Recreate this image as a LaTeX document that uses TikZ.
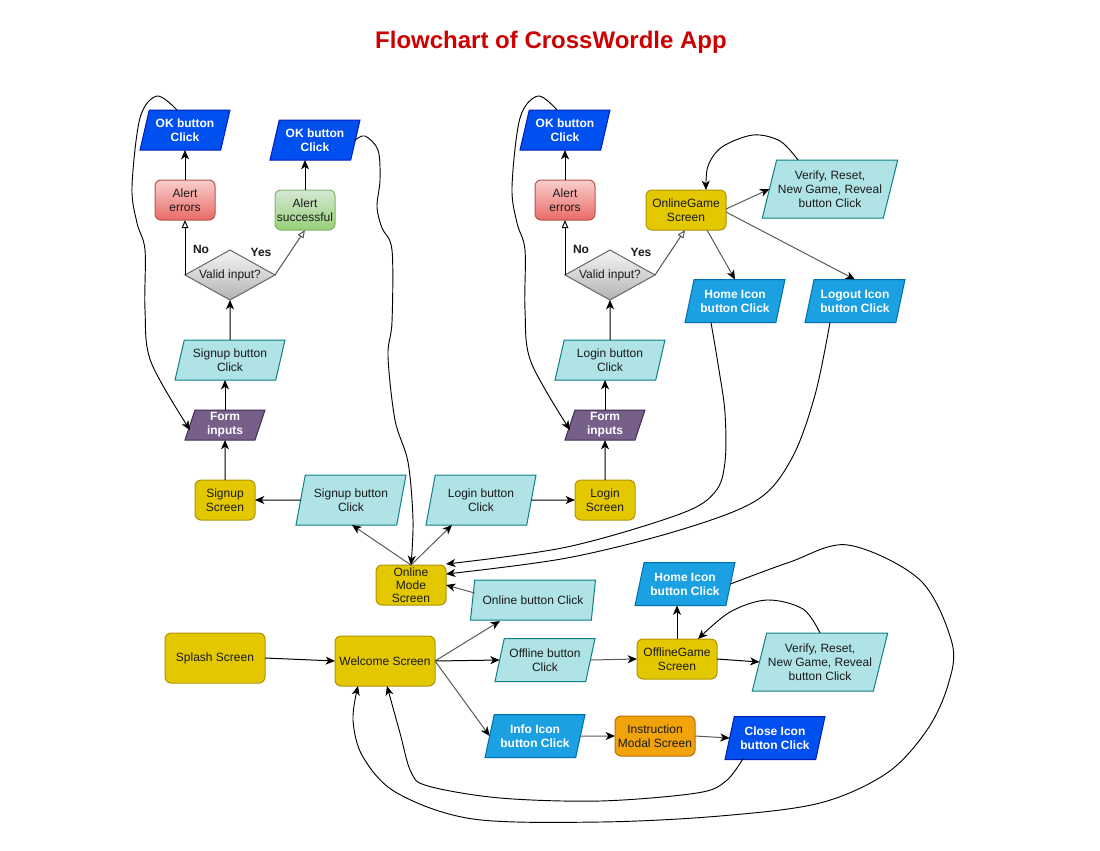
\documentclass[tikz,border=0pt]{standalone}
\usepackage{fontspec}
\setmainfont{Liberation Sans}
\usetikzlibrary{shapes.geometric,arrows.meta,calc}
\definecolor{txt}{HTML}{1A1A1A}
\definecolor{titlered}{HTML}{CC0000}
\definecolor{ylw}{HTML}{E3C800}
\definecolor{ylwD}{HTML}{B09500}
\definecolor{tealF}{HTML}{B0E3E6}
\definecolor{tealD}{HTML}{0E8088}
\definecolor{blueF}{HTML}{0050EF}
\definecolor{blueD}{HTML}{001DBC}
\definecolor{lblueF}{HTML}{1BA1E2}
\definecolor{lblueD}{HTML}{006EAF}
\definecolor{purF}{HTML}{76608A}
\definecolor{purD}{HTML}{432D57}
\definecolor{redT}{HTML}{F8CECC}
\definecolor{redB}{HTML}{EA6B66}
\definecolor{redD}{HTML}{B85450}
\definecolor{grnT}{HTML}{D5E8D4}
\definecolor{grnB}{HTML}{97D077}
\definecolor{grnD}{HTML}{82B366}
\definecolor{orgF}{HTML}{F0A30A}
\definecolor{orgD}{HTML}{BD7000}
\definecolor{diaT}{HTML}{F5F5F5}
\definecolor{diaB}{HTML}{B3B3B3}
\definecolor{diaD}{HTML}{666666}
\definecolor{edgeG}{HTML}{5A5A5A}
\begin{document}
\begin{tikzpicture}[x=0.75pt,y=-0.75pt,
 base/.style={font=\fontsize{9}{10.5}\selectfont, align=center, inner sep=1pt, outer sep=0pt, line width=0.75pt, text=txt},
 sz/.style 2 args={minimum width=#1*0.75pt, minimum height=#2*0.75pt},
 scr/.style={base, rectangle, rounded corners=4.5pt, draw=ylwD, fill=ylw},
 para/.style={base, trapezium, trapezium left angle=70, trapezium right angle=110, trapezium stretches body},
 tealp/.style={para, draw=tealD, fill=tealF},
 boldw/.style={text=white, font=\fontsize{9}{10.5}\selectfont\bfseries},
 bluep/.style={para, boldw, draw=blueD, fill=blueF},
 lbluep/.style={para, boldw, draw=lblueD, fill=lblueF},
 purp/.style={para, boldw, draw=purD, fill=purF},
 redb/.style={base, rectangle, rounded corners=4.5pt, draw=redD, top color=redT, bottom color=redB},
 grnb/.style={base, rectangle, rounded corners=4.5pt, draw=grnD, top color=grnT, bottom color=grnB},
 orgb/.style={scr, draw=orgD, fill=orgF},
 dia/.style={base, diamond, aspect=1.8, inner sep=0pt, draw=diaD, top color=diaT, bottom color=diaB},
 lbl/.style={font=\fontsize{9}{10.5}\selectfont\bfseries, text=txt, inner sep=0pt},
 arr/.style={draw=black, line width=0.75pt, -{Stealth[length=7pt,width=6pt,inset=2pt]}},
 garr/.style={draw=edgeG, line width=0.75pt, -{Stealth[length=7pt,width=6pt,inset=2pt,color=black]}},
 oarr/.style={line width=0.75pt, -{Triangle[open,length=6pt,width=5pt]}},
 goarr/.style={oarr, draw=edgeG},
 crv/.style={arr, line width=0.7pt}
]
\useasboundingbox[fill=white] (0,0) rectangle (1100,850);

\node[font=\fontsize{18}{21}\selectfont\bfseries, text=titlered] (title) at (551,42) {Flowchart of CrossWordle App};

% ---- signup branch
\node[bluep, sz={90}{40}] (ok1) at (185,130) {OK button\\Click};
\node[redb, sz={60}{40}] (ae1) at (185,200) {Alert\\errors};
\node[grnb, sz={60}{40}] (as1) at (305,210) {Alert\\successful};
\node[bluep, sz={90}{40}] (ok2) at (315,140) {OK button\\Click};
\node[dia, sz={90}{50}] (vi1) at (230,275) {Valid input?};
\node[lbl] (no1) at (201,249) {No};
\node[lbl] (yes1) at (261,252) {Yes};
\node[tealp, sz={110}{40}] (sb1) at (230,360) {Signup button\\Click};
\node[purp, sz={80}{30}] (fi1) at (225,425) {Form\\inputs};
\node[scr, sz={60}{40}] (ss) at (225,500) {Signup\\Screen};
\node[tealp, sz={110}{50}] (sb2) at (351,500) {Signup button\\Click};

% ---- login branch
\node[tealp, sz={110}{50}] (lb2) at (481,500) {Login button\\Click};
\node[scr, sz={60}{40}] (ls) at (605,500) {Login\\Screen};
\node[purp, sz={80}{30}] (fi2) at (605,425) {Form\\inputs};
\node[tealp, sz={110}{40}] (lb1) at (610,360) {Login button\\Click};
\node[dia, sz={90}{50}] (vi2) at (610,275) {Valid input?};
\node[lbl] (no2) at (581,249) {No};
\node[lbl] (yes2) at (641,252) {Yes};
\node[redb, sz={60}{40}] (ae2) at (565,200) {Alert\\errors};
\node[bluep, sz={90}{40}] (ok3) at (565,130) {OK button\\Click};
\node[scr, sz={80}{40}] (og) at (686,210) {OnlineGame\\Screen};
\node[tealp, sz={130}{58}] (vr1) at (830,189) {Verify, Reset,\\New Game, Reveal\\button Click};
\node[lbluep, sz={100}{43}] (hi1) at (735,301) {Home Icon\\button Click};
\node[lbluep, sz={100}{43}] (lo) at (855,301) {Logout Icon\\button Click};

% ---- main row
\node[scr, sz={70}{40}, inner sep=0pt, font=\fontsize{9}{9.8}\selectfont] (om) at (411,585) {Online\\Mode\\Screen};
\node[tealp, sz={125}{40}] (ob) at (533,600) {Online button Click};
\node[scr, sz={100}{50}] (sp) at (215,658) {Splash Screen};
\node[scr, sz={100}{50}] (wl) at (385,661) {Welcome Screen};
\node[tealp, sz={100}{43}] (fb) at (545,660) {Offline button\\Click};
\node[scr, sz={80}{40}] (ofg) at (677,659) {OfflineGame\\Screen};
\node[lbluep, sz={100}{43}] (hi2) at (685,584) {Home Icon\\button Click};
\node[tealp, sz={130}{58}] (vr2) at (820,662) {Verify, Reset,\\New Game, Reveal\\button Click};
\node[lbluep, sz={100}{43}] (inf) at (535,736) {Info Icon\\button Click};
\node[orgb, sz={80}{40}] (ins) at (655,736) {Instruction\\Modal Screen};
\node[bluep, sz={100}{43}] (cl) at (775,738) {Close Icon\\button Click};

% ---- straight connectors, signup side
\draw[arr] (fi1.north) -- (fi1.north |- sb1.south);
\draw[arr] (sb1.north) -- (vi1.south);
\draw[oarr] (vi1.west) -- (vi1.west |- ae1.south);
\draw[goarr] (vi1.east) -- (as1.south);
\draw[arr] (ae1.north) -- (ae1.north |- ok1.south);
\draw[arr] (as1.north) -- (as1.north |- ok2.south);
\draw[arr] (ss.north) -- (fi1.south);
\draw[arr] (sb2.west) -- (ss.east);
\draw[garr] (om.north) -- ($(sb2.center)+(1,25)$);
\draw[garr] (om.north) -- ($(lb2.center)+(-29,25)$);

% ---- login side
\draw[arr] (lb2.east) -- (ls.west);
\draw[arr] (ls.north) -- (fi2.south);
\draw[arr] (fi2.north) -- (fi2.north |- lb1.south);
\draw[arr] (lb1.north) -- (vi2.south);
\draw[oarr] (vi2.west) -- (vi2.west |- ae2.south);
\draw[goarr] (vi2.east) -- ($(og.south)+(-1,0)$);
\draw[arr] (ae2.north) -- (ae2.north |- ok3.south);
\draw[garr] ($(og.east)+(0,-1)$) -- (vr1.west);
\draw[garr] ($(og.south)+(21,0)$) -- (hi1.north);
\draw[garr] ($(og.east)+(0,2)$) -- (lo.north);

% ---- main row connectors
\draw[arr] (sp.east) -- (wl.west);
\draw[garr] (wl.east) -- ($(ob.center)+(-33,21)$);
\draw[arr] (wl.east) -- (fb.west);
\draw[garr] (wl.east) -- (inf.west);
\draw[garr] ($(ob.west)+(2,-7)$) -- (om.east);
\draw[garr] (fb.east) -- (ofg.west);
\draw[arr] (ofg.north) -- (ofg.north |- hi2.south);
\draw[arr] (ofg.east) -- (vr2.west);
\draw[garr] (inf.east) -- (ins.west);
\draw[garr] (ins.east) -- (cl.west);

% ---- curved connectors
\draw[crv] plot[smooth, tension=0.55] coordinates {($(ok1.north)+(-8,0)$) (157,96) (140,118) (132,187) (137,223) (145,250) (145,310) (151,362) ($(fi1.west)+(0,5)$)};
\draw[crv] plot[smooth, tension=0.55] coordinates {($(ok3.north)+(-8,0)$) (538,96) (520,118) (512,187) (517,223) (525,250) (525,310) (531,362) ($(fi2.west)+(0,5)$)};
\draw[crv] plot[smooth, tension=0.55] coordinates {(ok2.east) (365,136) (378,150) (380,180) (377,207) (382,228) (392,250) (392,322) (388,356) (395,420) (408,462) (413,520) (om.north)};
\draw[crv] plot[smooth, tension=0.55] coordinates {($(vr1.center)+(-32,-29)$) (780,141) (753,135) (722,147) (708,166) ($(og.north)+(20,0)$)};
\draw[crv] plot[smooth, tension=0.55] coordinates {($(hi1.south)+(-24,0)$) (719,370) (725,413) (725,462) (715,492) (680,514) (567,547) ($(om.north east)+(0,-1)$)};
\draw[crv] plot[smooth, tension=0.55] coordinates {($(lo.south)+(-25,0)$) (815,395) (792,458) (757,500) (680,530) (567,558) ($(om.east)+(0,-11)$)};
\draw[crv] plot[smooth, tension=0.55] coordinates {($(vr2.north)+(0,0)$) (803,609) (767,600) (730,612) ($(ofg.north)+(21,0)$)};
\draw[crv] plot[smooth, tension=0.55] coordinates {(hi2.east) (790,562) (848,545) (920,580) (952,643) (948,685) (927,730) (887,773) (820,803) (720,816) (600,822) (473,819) (397,793) (363,757) (353,720) ($(wl.south)+(-27,0)$)};
\draw[crv] plot[smooth, tension=0.55] coordinates {($(cl.south)+(-32,-1)$) (726,781) (697,793) (600,801) (500,798) (428,786) (411,772) (400,733) ($(wl.south)+(2,0)$)};
\end{tikzpicture}
\end{document}
